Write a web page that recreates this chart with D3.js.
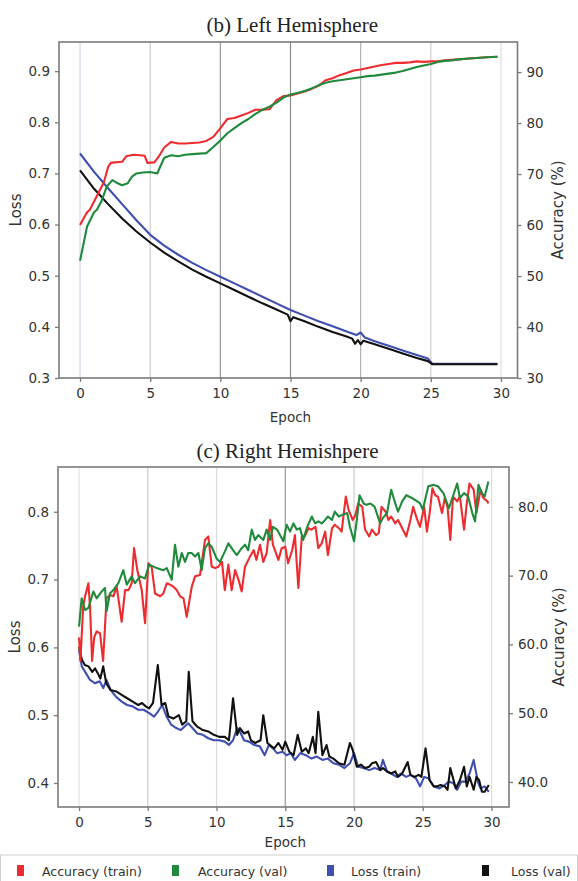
<!DOCTYPE html>
<html>
<head>
<meta charset="utf-8">
<script src="https://cdn.jsdelivr.net/npm/d3@7"></script>
<style>
  html, body { margin: 0; padding: 0; background: #fff; }
  svg { display: block; }
</style>
</head>
<body>
<svg id="fig" width="578" height="881"></svg>
<script>
// ---------- tick values ----------
const epochTicks = [0, 5, 10, 15, 20, 25, 30];
const leftLossTicks = [0.3, 0.4, 0.5, 0.6, 0.7, 0.8, 0.9];
const leftAccTicks = [30, 40, 50, 60, 70, 80, 90];
const rightLossTicks = [0.4, 0.5, 0.6, 0.7, 0.8];
const rightAccTicks = [40, 50, 60, 70, 80];
const legendLabels = ["Accuracy (train)", "Accuracy (val)", "Loss (train)", "Loss (val)"];

// ---------- (b) left hemisphere, [epoch, value] ----------
const leftAccTrain = [[0,60.0],[0.5,62.5],[0.7,63.0],[1.0,64.6],[1.5,67.3],[1.7,68.4],[2.0,71.4],[2.2,72.2],[2.5,72.3],[3.0,72.4],[3.3,73.5],[3.8,73.8],[4.3,73.7],[4.6,73.6],[4.8,72.2],[5.3,72.3],[5.6,73.4],[6.0,75.2],[6.5,76.3],[7.0,76.0],[7.5,76.0],[8.0,76.1],[8.5,76.2],[9.0,76.5],[9.5,77.3],[10.0,79.0],[10.5,80.8],[11.0,81.0],[11.5,81.5],[12.0,82.0],[12.5,82.6],[13.0,82.6],[13.5,82.7],[14.0,84.5],[14.5,85.3],[15.0,85.4],[15.5,85.8],[16.0,86.2],[16.5,86.7],[17.0,87.3],[17.5,88.4],[18.0,88.8],[18.5,89.4],[19.0,89.8],[19.5,90.3],[20.0,90.5],[20.5,90.8],[21.0,91.1],[21.5,91.4],[22.0,91.6],[22.5,91.8],[23.0,91.8],[23.5,91.9],[24.0,92.1],[24.5,92.0],[25.0,92.1],[25.5,92.1],[26.0,92.3],[26.5,92.4],[27.0,92.5],[27.5,92.6],[28.0,92.7],[28.5,92.8],[29.0,92.9],[29.75,93.0]];
const leftAccVal = [[0,53.0],[0.3,57.0],[0.5,59.7],[1.0,62.5],[1.2,63.0],[1.5,64.5],[1.9,67.5],[2.3,68.8],[2.6,68.3],[3.0,67.8],[3.4,68.2],[3.7,69.5],[4.0,70.1],[4.5,70.3],[5.0,70.4],[5.5,70.1],[6.0,73.2],[6.5,73.7],[7.0,73.5],[7.5,73.8],[8.0,73.9],[8.5,74.0],[9.0,74.1],[9.5,75.3],[10.0,76.6],[10.5,78.0],[11.0,79.0],[11.5,80.0],[12.0,80.8],[12.5,81.8],[13.0,82.6],[13.5,83.2],[14.0,84.0],[14.5,85.0],[15.0,85.6],[15.5,85.9],[16.0,86.3],[16.5,86.8],[17.0,87.4],[17.5,87.9],[18.0,88.2],[18.5,88.4],[19.0,88.6],[19.5,88.8],[20.0,89.0],[20.5,89.2],[21.0,89.3],[21.5,89.5],[22.0,89.7],[22.5,89.9],[23.0,90.2],[23.5,90.6],[24.0,91.0],[24.5,91.3],[25.0,91.6],[25.5,92.0],[26.0,92.2],[26.5,92.3],[27.0,92.5],[27.5,92.6],[28.0,92.7],[28.5,92.8],[29.0,92.9],[29.75,93.0]];
const leftLossTrain = [[0,0.739],[1,0.703],[2,0.671],[3,0.640],[4,0.609],[5,0.580],[6,0.559],[7,0.541],[8,0.525],[9,0.511],[10,0.498],[11,0.485],[12,0.472],[13,0.459],[14,0.446],[15,0.433],[16,0.422],[17,0.411],[18,0.401],[19,0.391],[19.7,0.384],[20.0,0.389],[20.3,0.379],[21,0.372],[22,0.363],[23,0.354],[24,0.345],[24.8,0.338],[25.1,0.328],[26,0.328],[27,0.328],[28,0.328],[29,0.328],[29.75,0.328]];
const leftLossVal = [[0,0.706],[1,0.670],[2,0.640],[3,0.612],[4,0.587],[5,0.565],[6,0.545],[7,0.528],[8,0.512],[9,0.498],[10,0.485],[11,0.472],[12,0.459],[13,0.446],[14,0.434],[14.8,0.424],[15.0,0.411],[15.2,0.419],[16,0.411],[17,0.400],[18,0.390],[19,0.381],[19.4,0.377],[19.6,0.367],[19.8,0.374],[20.0,0.366],[20.2,0.373],[21,0.366],[22,0.357],[23,0.348],[24,0.339],[24.8,0.333],[25.1,0.327],[26,0.327],[27,0.327],[28,0.327],[29,0.327],[29.75,0.327]];

// ---------- (c) right hemisphere, [epoch, value] ----------
const rightAccTrain = [[0,61.0],[0.1,57.6],[0.3,65.5],[0.44,67.0],[0.68,68.9],[0.8,65.5],[0.95,57.6],[1.1,61.0],[1.28,61.9],[1.53,61.6],[1.75,57.6],[2.0,66.7],[2.25,67.2],[2.5,67.0],[2.74,68.4],[3.1,63.3],[3.35,67.9],[3.6,67.9],[3.83,68.9],[4.0,74.0],[4.24,70.8],[4.56,67.9],[4.8,63.1],[5.04,71.8],[5.28,71.3],[5.53,67.4],[5.9,67.0],[6.13,67.4],[6.38,68.9],[6.62,68.7],[6.86,68.4],[7.1,67.9],[7.35,67.0],[7.6,66.7],[7.83,64.0],[8.2,68.4],[8.44,69.9],[8.8,70.1],[9.16,75.2],[9.4,75.7],[9.65,71.3],[9.9,71.1],[10.13,71.3],[10.4,72.0],[10.6,67.9],[10.86,71.6],[11.1,67.9],[11.35,70.8],[11.6,69.4],[11.83,67.7],[12.07,71.3],[12.44,72.8],[12.7,73.7],[12.9,72.3],[13.16,74.5],[13.4,72.0],[13.65,73.3],[13.9,78.1],[14.1,74.5],[14.5,72.3],[14.74,74.0],[15.0,74.2],[15.2,71.8],[15.5,73.7],[15.7,75.9],[15.95,68.2],[16.2,75.7],[16.4,75.7],[16.7,76.9],[16.9,76.7],[17.2,77.1],[17.4,74.0],[17.65,74.7],[17.9,76.4],[18.1,73.0],[18.4,76.9],[18.6,77.4],[18.9,76.9],[19.1,76.4],[19.4,81.5],[19.6,79.6],[19.9,78.1],[20.1,78.8],[20.3,80.5],[20.6,80.0],[20.8,76.7],[21.1,75.7],[21.3,76.7],[21.6,75.9],[21.8,76.2],[22.0,80.0],[22.3,79.3],[22.5,78.1],[22.7,78.6],[23.0,77.6],[23.2,78.1],[23.5,76.9],[23.8,75.7],[24.1,78.1],[24.3,80.0],[24.6,78.1],[24.8,77.1],[25.1,80.0],[25.3,76.4],[25.5,79.1],[25.7,82.7],[25.9,81.7],[26.1,81.5],[26.4,79.1],[26.6,81.3],[26.8,80.0],[27.0,75.2],[27.2,81.5],[27.5,80.8],[27.7,81.5],[28.0,76.7],[28.2,80.5],[28.4,83.4],[28.7,82.5],[28.9,79.1],[29.2,82.5],[29.4,81.3],[29.7,80.8],[29.77,80.5]];
const rightAccVal = [[0,62.6],[0.19,66.7],[0.44,65.0],[0.68,65.3],[1.04,67.7],[1.28,66.7],[1.65,67.7],[1.89,68.2],[2.0,64.8],[2.25,67.4],[2.5,67.9],[2.86,68.9],[3.22,70.8],[3.47,68.7],[3.83,69.9],[4.07,68.9],[4.44,69.9],[4.8,69.6],[5.1,71.6],[5.65,71.1],[6.13,70.8],[6.38,71.1],[6.74,69.4],[6.98,74.5],[7.22,71.3],[7.47,73.3],[7.71,72.0],[7.95,73.3],[8.19,73.3],[8.44,72.8],[8.68,73.3],[8.92,70.8],[9.16,74.0],[9.4,74.7],[9.65,74.2],[10.0,72.5],[10.25,72.0],[10.6,73.5],[10.86,74.7],[11.2,73.7],[11.47,73.0],[11.83,74.0],[12.07,74.5],[12.3,73.7],[12.56,76.7],[12.8,75.2],[13.04,75.9],[13.4,75.2],[13.65,76.7],[13.9,75.2],[14.1,77.1],[14.4,76.7],[14.86,75.0],[15.1,77.4],[15.35,76.4],[15.59,77.6],[15.83,76.7],[16.07,76.9],[16.3,75.2],[16.56,76.9],[16.93,78.6],[17.17,77.6],[17.41,77.9],[17.65,77.6],[17.9,78.1],[18.1,78.6],[18.4,78.1],[18.6,79.3],[18.9,78.6],[19.1,78.8],[19.5,79.1],[19.7,77.1],[20.0,75.0],[20.2,78.1],[20.4,81.7],[20.7,80.5],[20.9,80.3],[21.2,80.5],[21.5,80.0],[21.9,77.6],[22.1,78.4],[22.4,79.1],[22.7,82.5],[23.0,80.5],[23.2,79.3],[23.5,80.8],[23.8,81.7],[24.2,81.3],[24.6,80.8],[24.8,80.5],[25.0,79.6],[25.4,83.0],[25.8,83.2],[26.1,83.0],[26.5,82.0],[26.9,79.8],[27.1,81.0],[27.5,83.4],[27.7,81.3],[28.0,82.0],[28.3,81.5],[28.6,79.1],[28.8,77.9],[29.05,83.2],[29.3,82.0],[29.5,81.5],[29.77,83.7]];
const rightLossTrain = [[0,0.596],[0.2,0.572],[0.5,0.562],[0.8,0.552],[1.17,0.547],[1.5,0.550],[1.76,0.540],[2.0,0.552],[2.3,0.537],[2.7,0.527],[3.1,0.520],[3.5,0.515],[3.9,0.513],[4.3,0.508],[4.7,0.508],[5.1,0.503],[5.46,0.498],[5.73,0.505],[6.05,0.515],[6.37,0.498],[6.7,0.486],[7.07,0.481],[7.4,0.478],[7.66,0.483],[7.93,0.488],[8.25,0.481],[8.6,0.473],[9.0,0.471],[9.4,0.466],[9.8,0.463],[10.2,0.463],[10.6,0.461],[10.9,0.456],[11.2,0.463],[11.5,0.481],[11.7,0.476],[12.0,0.463],[12.35,0.461],[12.75,0.456],[13.15,0.454],[13.5,0.441],[13.8,0.456],[14.1,0.451],[14.4,0.444],[14.8,0.446],[15.1,0.441],[15.4,0.444],[15.7,0.434],[16.1,0.444],[16.5,0.441],[16.9,0.436],[17.3,0.439],[17.7,0.434],[18.1,0.436],[18.5,0.429],[18.9,0.427],[19.3,0.422],[19.7,0.429],[20.0,0.444],[20.3,0.424],[20.7,0.422],[21.1,0.419],[21.5,0.422],[21.9,0.419],[22.1,0.434],[22.4,0.417],[22.7,0.414],[23.1,0.409],[23.4,0.414],[23.8,0.409],[24.1,0.412],[24.5,0.407],[24.8,0.395],[25.1,0.409],[25.4,0.407],[25.8,0.395],[26.2,0.392],[26.6,0.397],[26.9,0.402],[27.2,0.400],[27.5,0.390],[27.8,0.402],[28.1,0.402],[28.4,0.414],[28.7,0.434],[29.0,0.402],[29.2,0.392],[29.5,0.395],[29.8,0.387]];
const rightLossVal = [[0,0.601],[0.2,0.582],[0.42,0.574],[0.69,0.572],[0.96,0.564],[1.17,0.569],[1.36,0.562],[1.55,0.554],[1.76,0.572],[1.98,0.547],[2.3,0.537],[2.7,0.535],[3.1,0.530],[3.5,0.525],[3.9,0.520],[4.3,0.515],[4.58,0.518],[4.85,0.513],[5.1,0.510],[5.38,0.518],[5.73,0.574],[6.0,0.515],[6.27,0.518],[6.5,0.498],[6.86,0.495],[7.26,0.500],[7.5,0.486],[7.8,0.491],[7.98,0.564],[8.25,0.491],[8.6,0.483],[9.0,0.478],[9.4,0.476],[9.8,0.471],[10.2,0.468],[10.6,0.468],[10.9,0.463],[11.2,0.525],[11.5,0.471],[11.7,0.481],[12.0,0.473],[12.3,0.476],[12.5,0.463],[12.8,0.459],[13.2,0.463],[13.4,0.500],[13.7,0.459],[14.0,0.454],[14.2,0.451],[14.5,0.459],[14.8,0.449],[15.0,0.461],[15.3,0.446],[15.6,0.441],[15.9,0.471],[16.2,0.446],[16.5,0.451],[16.7,0.444],[17.0,0.468],[17.2,0.444],[17.4,0.505],[17.7,0.441],[18.0,0.456],[18.2,0.439],[18.5,0.436],[18.9,0.429],[19.3,0.427],[19.7,0.459],[19.9,0.449],[20.2,0.424],[20.5,0.427],[20.8,0.422],[21.1,0.424],[21.3,0.429],[21.6,0.431],[21.9,0.419],[22.1,0.422],[22.4,0.417],[22.7,0.414],[23.0,0.417],[23.2,0.409],[23.5,0.414],[23.9,0.431],[24.1,0.412],[24.4,0.409],[24.7,0.412],[24.9,0.409],[25.2,0.451],[25.5,0.404],[25.8,0.395],[26.0,0.395],[26.3,0.397],[26.6,0.395],[26.8,0.390],[27.0,0.422],[27.2,0.407],[27.4,0.392],[27.7,0.404],[28.0,0.424],[28.2,0.395],[28.4,0.409],[28.7,0.390],[28.9,0.409],[29.1,0.404],[29.3,0.387],[29.5,0.387],[29.8,0.397]];

// ---------- styling ----------
const colors = { accTrain: "#ee2b2e", accVal: "#1f8a3c", lossTrain: "#3f4fb0", lossVal: "#111111" };
const legendColors = [colors.accTrain, colors.accVal, colors.lossTrain, colors.lossVal];
const sansFont = "'DejaVu Sans', sans-serif";
const serifFont = "'Liberation Serif', 'DejaVu Serif', serif";

const svg = d3.select("#fig");

function drawPanel(cfg) {
  const { frame } = cfg;
  const x = d3.scaleLinear().domain(cfg.xDomain).range([frame.x0, frame.x1]);
  const yLoss = d3.scaleLinear().domain(cfg.lossDomain).range([frame.y1, frame.y0]);
  const yAcc = d3.scaleLinear().domain(cfg.accDomain).range([frame.y1, frame.y0]);
  const g = svg.append("g");

  // vertical grid at each epoch tick
  g.append("g").selectAll("line").data(epochTicks).join("line")
    .attr("x1", d => x(d)).attr("x2", d => x(d))
    .attr("y1", frame.y0).attr("y2", frame.y1)
    .attr("stroke", (d, i) => cfg.gridShades[i])
    .attr("stroke-width", 1.2);

  const line = (ys) => d3.line().x(d => x(d[0])).y(d => ys(d[1]));
  const series = [
    [cfg.lossTrain, yLoss, colors.lossTrain],
    [cfg.lossVal, yLoss, colors.lossVal],
    [cfg.accTrain, yAcc, colors.accTrain],
    [cfg.accVal, yAcc, colors.accVal]
  ];
  series.forEach(([data, ys, c]) => {
    g.append("path").datum(data)
      .attr("fill", "none").attr("stroke", c)
      .attr("stroke-width", 2.1).attr("stroke-linejoin", "round")
      .attr("d", line(ys));
  });

  // axes
  const styleAxis = sel => {
    sel.select(".domain").remove();
    sel.selectAll(".tick line").attr("stroke", "#7a7a7a").attr("stroke-width", 1.3);
    sel.selectAll(".tick text").attr("fill", "#333").style("font-family", sansFont).style("font-size", "13.5px");
  };
  g.append("g").attr("transform", `translate(0,${frame.y1})`)
    .call(d3.axisBottom(x).tickValues(epochTicks).tickFormat(d3.format("d")).tickSize(4).tickPadding(6))
    .call(styleAxis);
  g.append("g").attr("transform", `translate(${frame.x0},0)`)
    .call(d3.axisLeft(yLoss).tickValues(cfg.lossTicks).tickFormat(d3.format(".1f")).tickSize(4).tickPadding(5))
    .call(styleAxis);
  g.append("g").attr("transform", `translate(${frame.x1},0)`)
    .call(d3.axisRight(yAcc).tickValues(cfg.accTicks).tickFormat(d3.format(cfg.accFormat)).tickSize(4).tickPadding(5))
    .call(styleAxis);

  // frame
  g.append("rect")
    .attr("x", frame.x0).attr("y", frame.y0)
    .attr("width", frame.x1 - frame.x0).attr("height", frame.y1 - frame.y0)
    .attr("fill", "none").attr("stroke", "#7a7a7a").attr("stroke-width", 1.6);

  // labels
  g.append("text").text(cfg.title)
    .attr("x", (frame.x0 + frame.x1) / 2 + 4).attr("y", cfg.titleY)
    .attr("text-anchor", "middle").attr("fill", "#222")
    .style("font-family", serifFont).style("font-size", "21px");
  g.append("text").text("Epoch")
    .attr("x", x(15)).attr("y", frame.y1 + cfg.epochDy)
    .attr("text-anchor", "middle").attr("fill", "#333")
    .style("font-family", sansFont).style("font-size", "13.5px");
  const midY = (frame.y0 + frame.y1) / 2;
  g.append("text").text("Loss")
    .attr("transform", `translate(${cfg.lossLabelX},${midY}) rotate(-90)`)
    .attr("text-anchor", "middle").attr("fill", "#333")
    .style("font-family", sansFont).style("font-size", "15px");
  g.append("text").text("Accuracy (%)")
    .attr("transform", `translate(${cfg.accLabelX},${midY}) rotate(-90)`)
    .attr("text-anchor", "middle").attr("fill", "#333")
    .style("font-family", sansFont).style("font-size", "15px");
}

drawPanel({
  title: "(b) Left Hemisphere", titleY: 32,
  frame: { x0: 59, x1: 517.5, y0: 42, y1: 378 },
  xDomain: [-1.5, 31.18], lossDomain: [0.3, 0.957], accDomain: [30, 95.9],
  lossTicks: leftLossTicks, accTicks: leftAccTicks, accFormat: "d",
  accTrain: leftAccTrain, accVal: leftAccVal, lossTrain: leftLossTrain, lossVal: leftLossVal,
  gridShades: ["#d6d6e4", "#cccccc", "#9a9a9a", "#8e8e8e", "#b0b0b0", "#cfcfcf", "#dddddd"],
  epochDy: 44, lossLabelX: 21, accLabelX: 563
});

drawPanel({
  title: "(c) Right Hemishpere", titleY: 458,
  frame: { x0: 58, x1: 509, y0: 467, y1: 807 },
  xDomain: [-1.53, 31.27], lossDomain: [0.3646, 0.866], accDomain: [36.36, 85.8],
  lossTicks: rightLossTicks, accTicks: rightAccTicks, accFormat: ".1f",
  accTrain: rightAccTrain, accVal: rightAccVal, lossTrain: rightLossTrain, lossVal: rightLossVal,
  gridShades: ["#e4e4e4", "#cccccc", "#dadada", "#9a9a9a", "#cccccc", "#dedede", "#dddddd"],
  epochDy: 40, lossLabelX: 20, accLabelX: 564
});

// legend strip
const legend = svg.append("g");
legend.append("rect").attr("x", 0.5).attr("y", 855).attr("width", 577).attr("height", 40)
  .attr("fill", "#fff").attr("stroke", "#cfcfcf").attr("stroke-width", 1);
const legendX = d3.scalePoint().domain(legendLabels).range([17, 482]);
const legendTextDx = [25, 26, 24, 29];
legendLabels.forEach((lab, i) => {
  const lx = legendX(lab);
  legend.append("rect").attr("x", lx).attr("y", 865).attr("width", 7).attr("height", 11)
    .attr("fill", legendColors[i]);
  legend.append("text").text(lab)
    .attr("x", lx + legendTextDx[i]).attr("y", 875.5)
    .attr("fill", "#333").style("font-family", sansFont).style("font-size", "12.5px");
});
</script>
</body>
</html>
